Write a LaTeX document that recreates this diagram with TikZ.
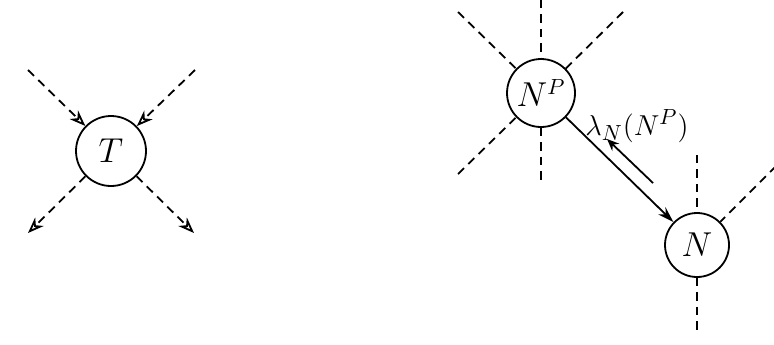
\documentclass[tikz,border=0pt]{standalone}
\usetikzlibrary{arrows.meta}
\tikzset{
  state/.style={circle,draw,line width=0.9pt,inner sep=0pt,font=\fontsize{16}{19}\selectfont},
  link/.style={line width=0.9pt,dash pattern=on 4.2pt off 3pt},
  dlink/.style={link,-{Stealth[open,length=8pt,width=6pt,inset=2.5pt]}}
}
\begin{document}
\begin{tikzpicture}[x=0.5pt,y=-0.5pt,>={Stealth[length=8pt,width=5pt]}]
  \useasboundingbox (0,0) rectangle (774,344);
  % left node
  \node[state,minimum size=35pt] (T) at (111,151) {$T$};
  \coordinate (tul) at (28,70);
  \coordinate (tur) at (195,70);
  \coordinate (tll) at (28,233);
  \coordinate (tlr) at (194,233);
  \draw[dlink] (tul) -- (T);
  \draw[dlink] (tur) -- (T);
  \draw[dlink] (T) -- (tll);
  \draw[dlink] (T) -- (tlr);
  % right nodes
  \node[state,minimum size=34pt] (NP) at (541,93) {$N^P$};
  \node[state,minimum size=32pt] (N) at (697,245) {$N$};
  \coordinate (pu) at (541,0);
  \coordinate (pul) at (458,12);
  \coordinate (pur) at (623,12);
  \coordinate (pll) at (458,174);
  \coordinate (pd) at (541,184);
  \draw[link] (pu) -- (NP);
  \draw[link] (pul) -- (NP);
  \draw[link] (pur) -- (NP);
  \draw[link] (pll) -- (NP);
  \draw[link] (NP) -- (pd);
  \coordinate (nu) at (697,155);
  \coordinate (nur) at (776,166);
  \coordinate (nd) at (697,332);
  \draw[link] (nu) -- (N);
  \draw[link] (nur) -- (N);
  \draw[link] (N) -- (nd);
  % main arrow and its label
  \draw[line width=0.9pt,->] (NP) -- (N);
  \coordinate (lb) at (653,183);
  \coordinate (le) at (607,139);
  \draw[line width=0.9pt,-{Stealth[length=6pt,width=5pt]}] (lb) -- (le);
  \node[anchor=base west,inner sep=0pt,font=\fontsize{15}{18}\selectfont] (lbl) at (585,135) {$\lambda_N(N^P)$};
\end{tikzpicture}
\end{document}
